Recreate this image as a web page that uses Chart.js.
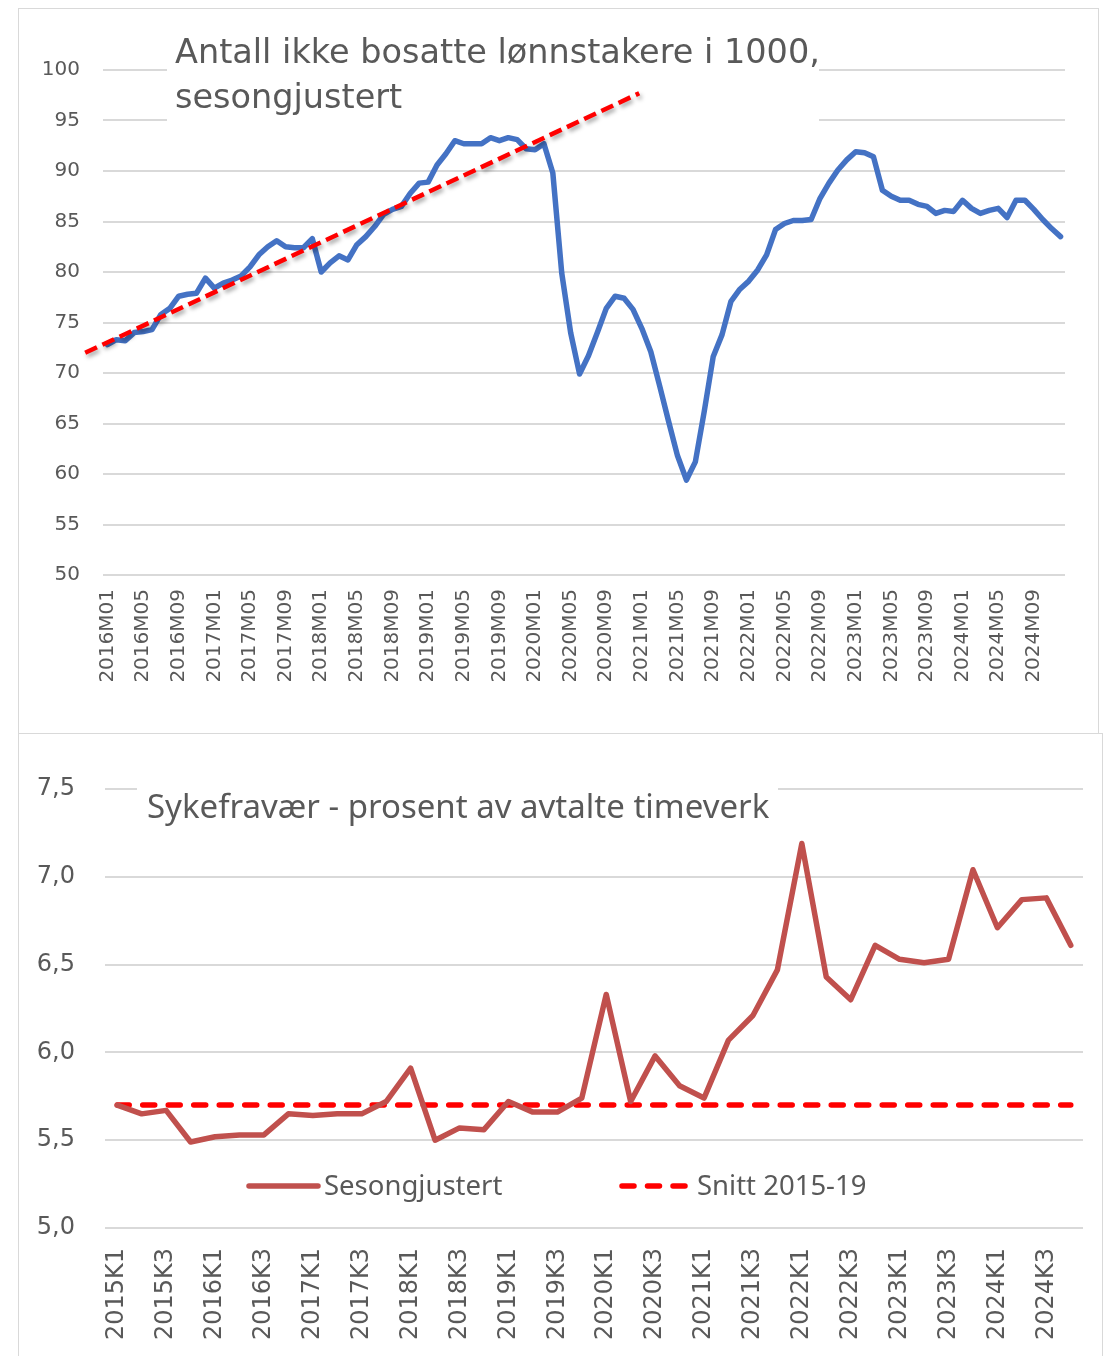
<!DOCTYPE html>
<html lang="no">
<head>
<meta charset="UTF-8">
<title>Ikke bosatte lønnstakere og sykefravær</title>
<script src="https://cdn.jsdelivr.net/npm/chart.js"></script>
<style>
  body { margin: 0; background: #fff; width: 1112px; height: 1356px; position: relative; overflow: hidden; }
  canvas { position: absolute; }
  .frame { position: absolute; border: 1px solid #d9d9d9; box-sizing: border-box; pointer-events: none; }
  .title { position: absolute; color: #595959; white-space: nowrap; }
</style>
</head>
<body>

<canvas id="topChart" width="1081" height="725" style="left:18px; top:8px;"></canvas>
<div class="frame" style="left:18px; top:8px; width:1081px; height:726px;"></div>
<div class="title" style="left:175px; top:29px; font-family:'DejaVu Sans'; font-size:33.5px; line-height:45px;">
  Antall ikke bosatte lønnstakere i 1000,<br>sesongjustert
</div>

<canvas id="bottomChart" width="1085" height="623" style="left:18px; top:733px;"></canvas>
<div class="frame" style="left:18px; top:733px; width:1085px; height:630px;"></div>
<div class="title" style="left:147px; top:784px; font-family:'Noto Sans'; font-size:33px; line-height:44px;">
  Sykefravær - prosent av avtalte timeverk
</div>

<script>
    // --- data: ikke bosatte lønnstakere (1000), månedlig 2016M01-2024M12
    const years = [2016, 2017, 2018, 2019, 2020, 2021, 2022, 2023, 2024];
    const ikkeBosatte = [
        72.8, 73.3, 73.2, 74.0, 74.1, 74.3, 75.8, 76.4, 77.6, 77.8, 77.9, 79.4,
        78.4, 78.9, 79.2, 79.6, 80.5, 81.7, 82.5, 83.1, 82.5, 82.4, 82.4, 83.3,
        80.0, 80.9, 81.6, 81.2, 82.7, 83.5, 84.5, 85.7, 86.2, 86.5, 87.8, 88.8,
        88.9, 90.6, 91.7, 93.0, 92.7, 92.7, 92.7, 93.3, 93.0, 93.3, 93.1, 92.2,
        92.1, 92.7, 89.8, 79.9, 74.0, 69.9, 71.7, 74.0, 76.4, 77.6, 77.4, 76.3,
        74.4, 72.1, 68.7, 65.2, 61.8, 59.4, 61.2, 66.2, 71.6, 73.8, 77.1, 78.3,
        79.1, 80.2, 81.7, 84.2, 84.8, 85.1, 85.1, 85.2, 87.3, 88.8, 90.1, 91.1,
        91.9, 91.8, 91.4, 88.1, 87.5, 87.1, 87.1, 86.7, 86.5, 85.8, 86.1, 86.0,
        87.1, 86.3, 85.8, 86.1, 86.3, 85.4, 87.1, 87.1, 86.2, 85.2, 84.3, 83.5
    ];
    // trendlinje (manuelt tegnet), endepunkter i måned-indeks / verdi
    const trendIdx = [-2.5, 59.7];
    const trendVal = [72.0, 97.7];

    // --- data: sykefravær, kvartalsvis 2015K1-2024K4
    const kvYears = [2015, 2016, 2017, 2018, 2019, 2020, 2021, 2022, 2023, 2024];
    const sykefravaer = [
        5.70, 5.65, 5.67, 5.49, 5.52, 5.53, 5.53, 5.65, 5.64, 5.65,
        5.65, 5.72, 5.91, 5.50, 5.57, 5.56, 5.72, 5.66, 5.66, 5.74,
        6.33, 5.72, 5.98, 5.81, 5.74, 6.07, 6.21, 6.47, 7.19, 6.43,
        6.30, 6.61, 6.53, 6.51, 6.53, 7.04, 6.71, 6.87, 6.88, 6.61
    ];
    const snitt2015_19 = 5.70;

    const monthLabels = [];
    years.forEach(y => {
        for (let m = 1; m <= 12; m++) monthLabels.push(y + 'M' + String(m).padStart(2, '0'));
    });
    const quarterLabels = [];
    kvYears.forEach(y => {
        for (let q = 1; q <= 4; q++) quarterLabels.push(y + 'K' + q);
    });

    const textColor = '#595959';
    const gridColor = '#d9d9d9';

    // hvit boks bak tittelen (skjuler rutenettet som i Excel)
    const titleBox = {
        id: 'titleBox',
        beforeDatasetsDraw(chart, args, opts) {
            const ctx = chart.ctx;
            ctx.save();
            ctx.fillStyle = '#fff';
            ctx.fillRect(opts.x, opts.y, opts.w, opts.h);
            ctx.restore();
        }
    };

    // stiplet trendlinje med skygge
    const trendLine = {
        id: 'trendLine',
        afterDatasetsDraw(chart) {
            const { ctx, scales: { x, y } } = chart;
            ctx.save();
            ctx.strokeStyle = '#ff0000';
            ctx.lineWidth = 4.5;
            ctx.setLineDash([13, 6]);
            ctx.shadowColor = 'rgba(0,0,0,0.35)';
            ctx.shadowBlur = 4;
            ctx.shadowOffsetX = 2;
            ctx.shadowOffsetY = 3;
            ctx.beginPath();
            ctx.moveTo(x.getPixelForValue(trendIdx[0]), y.getPixelForValue(trendVal[0]));
            ctx.lineTo(x.getPixelForValue(trendIdx[1]), y.getPixelForValue(trendVal[1]));
            ctx.stroke();
            ctx.restore();
        }
    };

    // forklaring inne i plottet
    const lineLegend = {
        id: 'lineLegend',
        afterDatasetsDraw(chart, args, opts) {
            const ctx = chart.ctx;
            ctx.save();
            chart.data.datasets.forEach((ds, i) => {
                const p = opts.items[i];
                ctx.strokeStyle = ds.borderColor;
                ctx.lineWidth = ds.borderWidth;
                ctx.lineCap = ds.borderCapStyle || 'butt';
                ctx.setLineDash(ds.borderDash || []);
                ctx.beginPath();
                ctx.moveTo(p.x0, opts.y);
                ctx.lineTo(p.x1, opts.y);
                ctx.stroke();
                ctx.fillStyle = textColor;
                ctx.font = opts.font;
                ctx.textBaseline = 'middle';
                ctx.fillText(ds.label, p.textX, opts.y + 1);
            });
            ctx.restore();
        }
    };

    // x-aksen skal ikke legge til egen sidepolstring
    const noSidePadding = s => { s.paddingLeft = 0; s.paddingRight = 0; };

    new Chart(document.getElementById('topChart'), {
        type: 'line',
        data: {
            labels: monthLabels,
            datasets: [{
                label: 'Ikke bosatte lønnstakere',
                data: ikkeBosatte,
                borderColor: '#4472C4',
                borderWidth: 5.5,
                borderJoinStyle: 'round',
                borderCapStyle: 'round',
                pointRadius: 0,
                tension: 0
            }]
        },
        options: {
            responsive: false,
            animation: false,
            layout: { padding: { top: 62, right: 34, left: 0, bottom: 0 } },
            plugins: {
                legend: { display: false },
                tooltip: { enabled: false },
                titleBox: { x: 149, y: 18, w: 652, h: 99 }
            },
            scales: {
                x: {
                    offset: true,
                    grid: { display: false, drawTicks: false },
                    border: { display: false },
                    ticks: {
                        autoSkip: false, minRotation: 90, maxRotation: 90, padding: 14,
                        color: textColor, font: { family: 'DejaVu Sans', size: 20 },
                        callback: (v, i) => i % 4 === 0 ? monthLabels[i] : ''
                    },
                    afterFit: s => { s.height = 158; noSidePadding(s); }
                },
                y: {
                    min: 50, max: 100,
                    grid: { color: gridColor, lineWidth: 2, drawTicks: false },
                    border: { display: false },
                    ticks: {
                        stepSize: 5, padding: 23,
                        color: textColor, font: { family: 'DejaVu Sans', size: 20 }
                    },
                    afterFit: s => { s.width = 85; }
                }
            }
        },
        plugins: [titleBox, trendLine]
    });

    new Chart(document.getElementById('bottomChart'), {
        type: 'line',
        data: {
            labels: quarterLabels,
            datasets: [{
                label: 'Sesongjustert',
                data: sykefravaer,
                borderColor: '#C0504D',
                borderWidth: 5.5,
                borderJoinStyle: 'round',
                borderCapStyle: 'round',
                pointRadius: 0,
                tension: 0
            }, {
                label: 'Snitt 2015-19',
                data: sykefravaer.map(() => snitt2015_19),
                borderColor: '#ff0000',
                borderWidth: 5.5,
                borderDash: [12, 13.5],
                borderCapStyle: 'round',
                pointRadius: 0
            }]
        },
        options: {
            responsive: false,
            animation: false,
            layout: { padding: { top: 56, right: 20, left: 0, bottom: 0 } },
            plugins: {
                legend: { display: false },
                tooltip: { enabled: false },
                titleBox: { x: 119, y: 40, w: 641, h: 60 },
                lineLegend: {
                    y: 453,
                    font: "27.5px 'Noto Sans'",
                    items: [
                        { x0: 231, x1: 300, textX: 306 },
                        { x0: 604, x1: 670, textX: 679 }
                    ]
                }
            },
            scales: {
                x: {
                    offset: true,
                    grid: { display: false, drawTicks: false },
                    border: { display: false },
                    ticks: {
                        autoSkip: false, minRotation: 90, maxRotation: 90, padding: 20,
                        color: textColor, font: { family: 'DejaVu Sans', size: 24 },
                        callback: (v, i) => i % 2 === 0 ? quarterLabels[i] : ''
                    },
                    afterFit: s => { s.height = 128; noSidePadding(s); }
                },
                y: {
                    min: 5, max: 7.5,
                    grid: { color: gridColor, lineWidth: 2, drawTicks: false },
                    border: { display: false },
                    ticks: {
                        stepSize: 0.5, padding: 30,
                        color: textColor, font: { family: 'DejaVu Sans', size: 24 },
                        callback: v => v.toFixed(1).replace('.', ',')
                    },
                    afterFit: s => { s.width = 87; }
                }
            }
        },
        plugins: [titleBox, lineLegend]
    });
</script>
</body>
</html>
